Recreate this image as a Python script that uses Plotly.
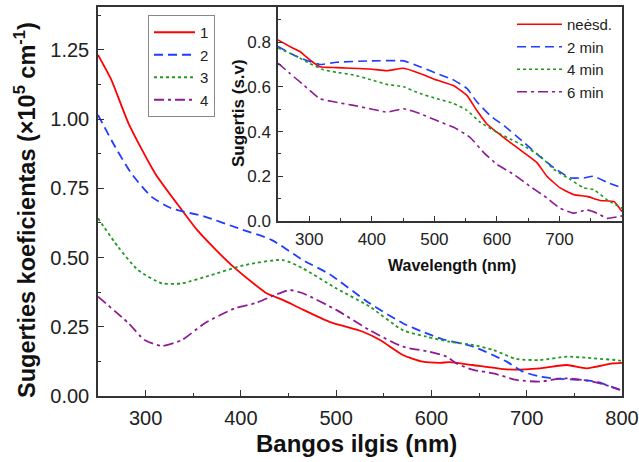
import plotly.graph_objects as go

# ---------------- main chart data ----------------
wl_1 = [250, 264, 282, 310, 338, 354, 374, 392, 413, 427, 444, 462, 493, 528, 546, 570, 591, 609, 619, 643, 679, 714, 742, 763, 790, 800]
abs_1 = [1.232, 1.142, 0.985, 0.804, 0.672, 0.600, 0.527, 0.467, 0.407, 0.371, 0.347, 0.317, 0.268, 0.232, 0.202, 0.148, 0.124, 0.120, 0.122, 0.112, 0.096, 0.10, 0.112, 0.10, 0.118, 0.12]

wl_2 = [250, 268, 285, 306, 327, 362, 397, 432, 465, 493, 535, 570, 595, 612, 644, 679, 696, 714, 731, 756, 773, 798, 800]
abs_2 = [1.015, 0.90, 0.804, 0.72, 0.678, 0.648, 0.606, 0.564, 0.491, 0.440, 0.335, 0.263, 0.226, 0.205, 0.178, 0.124, 0.088, 0.07, 0.063, 0.058, 0.052, 0.022, 0.02]

wl_3 = [250, 271, 292, 317, 338, 369, 404, 444, 465, 500, 535, 570, 595, 619, 644, 665, 689, 714, 742, 770, 798, 800]
abs_3 = [0.642, 0.539, 0.455, 0.407, 0.407, 0.437, 0.473, 0.491, 0.461, 0.389, 0.323, 0.238, 0.214, 0.196, 0.184, 0.166, 0.134, 0.13, 0.142, 0.136, 0.128, 0.125]

wl_4 = [250, 282, 299, 317, 338, 362, 394, 415, 436, 451, 465, 500, 535, 570, 598, 616, 626, 644, 665, 689, 714, 738, 763, 777, 798]
abs_4 = [0.359, 0.263, 0.202, 0.181, 0.202, 0.263, 0.317, 0.335, 0.365, 0.383, 0.371, 0.311, 0.238, 0.178, 0.160, 0.142, 0.118, 0.094, 0.082, 0.058, 0.052, 0.064, 0.056, 0.046, 0.022]

main_names = ["1", "2", "3", "4"]

# ---------------- inset data ----------------
in_wl_1 = [250, 269, 285, 301, 317, 344, 397, 424, 451, 477, 504, 531, 552, 568, 584, 600, 621, 643, 664, 680, 701, 723, 744, 765, 787, 800]
in_ab_1 = [0.81, 0.78, 0.758, 0.72, 0.69, 0.686, 0.68, 0.672, 0.683, 0.66, 0.63, 0.605, 0.562, 0.494, 0.434, 0.397, 0.352, 0.306, 0.261, 0.2, 0.148, 0.118, 0.11, 0.092, 0.087, 0.042]

in_wl_2 = [250, 280, 301, 317, 344, 397, 451, 477, 504, 531, 552, 568, 589, 611, 643, 664, 691, 717, 739, 755, 776, 800]
in_ab_2 = [0.78, 0.736, 0.713, 0.70, 0.71, 0.716, 0.716, 0.69, 0.66, 0.63, 0.593, 0.533, 0.472, 0.427, 0.352, 0.299, 0.238, 0.193, 0.193, 0.2, 0.173, 0.148]

in_wl_3 = [250, 280, 301, 323, 344, 371, 397, 424, 451, 477, 504, 531, 552, 573, 600, 621, 643, 669, 691, 717, 739, 755, 776, 800]
in_ab_3 = [0.774, 0.736, 0.704, 0.676, 0.665, 0.653, 0.633, 0.611, 0.60, 0.57, 0.547, 0.525, 0.495, 0.442, 0.397, 0.367, 0.336, 0.291, 0.231, 0.186, 0.148, 0.14, 0.095, 0.057]

in_wl_4 = [250, 269, 291, 317, 339, 371, 397, 424, 451, 477, 504, 531, 557, 579, 600, 627, 653, 680, 701, 723, 744, 760, 776, 800]
in_ab_4 = [0.706, 0.66, 0.608, 0.547, 0.533, 0.517, 0.502, 0.487, 0.502, 0.48, 0.449, 0.419, 0.374, 0.306, 0.253, 0.208, 0.155, 0.103, 0.057, 0.035, 0.05, 0.035, 0.012, 0.023]

inset_names = ["neėsd.", "2 min", "4 min", "6 min"]

main_xticks = [300, 400, 500, 600, 700, 800]
main_yticks = [0.0, 0.25, 0.5, 0.75, 1.0, 1.25]
inset_xticks = [300, 400, 500, 600, 700]
inset_yticks = [0.0, 0.2, 0.4, 0.6, 0.8]

# ---------------- styles ----------------
colors = ["#ff0000", "#1f3dff", "#1f9a1f", "#8e1a94"]
dashes = ["solid", "9px,5px", "3px,3px", "10px,4px,3px,4px"]
FONT = "Liberation Sans, Arial, sans-serif"
W, H = 639, 462

fig = go.Figure()

main_sets = [(wl_1, abs_1), (wl_2, abs_2), (wl_3, abs_3), (wl_4, abs_4)]
for (x, y), name, c, d in zip(main_sets, main_names, colors, dashes):
    fig.add_trace(go.Scatter(x=x, y=y, name=name, mode="lines",
                             line=dict(color=c, width=1.8, dash=d, shape="spline", smoothing=0.6),
                             xaxis="x", yaxis="y", legend="legend"))

inset_sets = [(in_wl_1, in_ab_1), (in_wl_2, in_ab_2), (in_wl_3, in_ab_3), (in_wl_4, in_ab_4)]
for (x, y), name, c, d in zip(inset_sets, inset_names, colors, dashes):
    fig.add_trace(go.Scatter(x=x, y=y, name=name, mode="lines",
                             line=dict(color=c, width=1.6, dash=d, shape="spline", smoothing=0.4),
                             xaxis="x2", yaxis="y2", legend="legend2"))

def px_x(p):
    return p / W

def px_y(p):
    return (H - p) / H

axis_common = dict(showline=True, linecolor="#333333", linewidth=1.5, mirror=True,
                   ticks="inside", tickwidth=1.3, tickcolor="#333333",
                   showgrid=False, zeroline=False)

fig.update_layout(
    width=W, height=H,
    margin=dict(l=0, r=0, t=0, b=0, autoexpand=False),
    paper_bgcolor="white",
    plot_bgcolor="#ffffff",
    font=dict(family=FONT, color="#222222"),
    xaxis=dict(domain=[px_x(98), px_x(622)], range=[250, 800], anchor="y",
               tickvals=main_xticks, ticklen=6,
               minor=dict(ticks="inside", ticklen=3.5, dtick=50, tick0=250, tickcolor="#333333"),
               tickfont=dict(size=20, family=FONT, color="#222222"), ticklabelstandoff=3,
               **axis_common),
    yaxis=dict(domain=[px_y(396), px_y(7)], range=[0, 1.405], anchor="x",
               tickvals=main_yticks, tickformat=".2f", ticklen=6,
               minor=dict(ticks="inside", ticklen=3.5, dtick=0.125, tick0=0, tickcolor="#333333"),
               tickfont=dict(size=20, family=FONT, color="#222222"), ticklabelstandoff=3,
               **axis_common),
    xaxis2=dict(domain=[px_x(278), px_x(622)], range=[250, 800], anchor="y2",
                tickvals=inset_xticks, ticklen=5,
                minor=dict(ticks="inside", ticklen=3, dtick=50, tick0=250, tickcolor="#333333"),
                tickfont=dict(size=17, family=FONT, color="#222222"), ticklabelstandoff=2,
                **axis_common),
    yaxis2=dict(domain=[px_y(221), px_y(7)], range=[0, 0.957], anchor="x2",
                tickvals=inset_yticks, tickformat=".1f", ticklen=5,
                minor=dict(ticks="inside", ticklen=3, dtick=0.1, tick0=0, tickcolor="#333333"),
                tickfont=dict(size=17, family=FONT, color="#222222"), ticklabelstandoff=2,
                **axis_common),
    legend=dict(x=px_x(148), y=px_y(15), xanchor="left", yanchor="top",
                bgcolor="white", bordercolor="#888888", borderwidth=1,
                font=dict(size=15, family=FONT, color="#222222"),
                itemwidth=41, tracegroupgap=0),
    legend2=dict(x=px_x(512), y=px_y(8), xanchor="left", yanchor="top",
                 bgcolor="rgba(0,0,0,0)", borderwidth=0,
                 font=dict(size=15, family=FONT, color="#222222"),
                 itemwidth=45, tracegroupgap=0),
    annotations=[
        dict(text="<b>Bangos ilgis (nm)</b>", x=px_x(356), y=px_y(443), xref="paper", yref="paper",
             showarrow=False, xanchor="center", yanchor="middle",
             font=dict(size=24, family=FONT, color="#111111")),
        dict(text="<b>Sugerties koeficientas (×10<sup>5</sup> cm<sup>-1</sup>)</b>",
             x=px_x(25), y=px_y(210), xref="paper", yref="paper", textangle=-90,
             showarrow=False, xanchor="center", yanchor="middle",
             font=dict(size=23.5, family=FONT, color="#111111")),
        dict(text="<b>Wavelength (nm)</b>", x=px_x(452), y=px_y(265), xref="paper", yref="paper",
             showarrow=False, xanchor="center", yanchor="middle",
             font=dict(size=16, family=FONT, color="#111111")),
        dict(text="<b>Sugertis (s.v)</b>", x=px_x(238), y=px_y(113), xref="paper", yref="paper",
             textangle=-90, showarrow=False, xanchor="center", yanchor="middle",
             font=dict(size=17, family=FONT, color="#111111")),
    ],
)

fig.write_html("out.html")
